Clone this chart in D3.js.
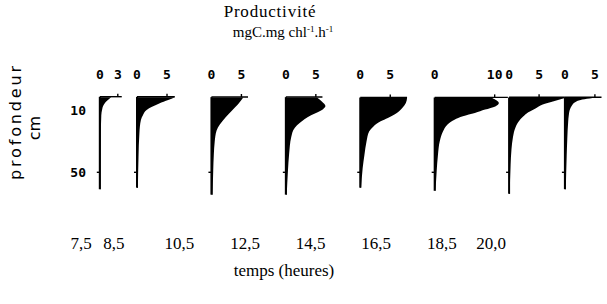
<!DOCTYPE html>
<html>
<head>
<meta charset="utf-8">
<script src="https://cdn.jsdelivr.net/npm/d3@7"></script>
<style>
  html, body { margin: 0; padding: 0; background: #fff; }
  svg { display: block; }
</style>
</head>
<body>
<svg id="chart" width="607" height="304"></svg>
<script>
// ---------- data ----------
const times      = [7.5, 8.5, 10.5, 12.5, 14.5, 16.5, 18.5, 20.0];
const timeLabels = ["7,5", "8,5", "10,5", "12,5", "14,5", "16,5", "18,5", "20,0"];
const topTicks   = [3, 5, 5, 5, 5, 10, 5, 5];
const depthTicks = [10, 50];

// productivity profiles: [depth (cm), productivity (mgC.mg chl-1.h-1)]
const prof_07_5 = [[1.3,1.9],[2.5,1.5],[4.5,0.95],[7,0.55],[9,0.4],[13,0.25],[25,0.18],[61,0.15]];
const prof_08_5 = [[1.3,6.3],[3.1,5.2],[5.3,3.7],[7.5,2.5],[9.5,1.6],[12.8,1.0],[16,0.65],[24.5,0.4],[40,0.25],[60,0.15]];
const prof_10_5 = [[1.5,5.3],[6,4.4],[10,3.4],[14.5,2.3],[19,1.4],[23,0.85],[30,0.55],[38.5,0.4],[49,0.3],[64.5,0.2]];
const prof_12_5 = [[1.5,5.2],[4,6.0],[7,6.6],[9,6.2],[11,5.3],[13,4.2],[15.5,3.1],[18,2.3],[21,1.5],[27,0.9],[38,0.55],[49,0.35],[64.5,0.15]];
const prof_14_5 = [[1.75,7.8],[5,7.6],[8.3,7.0],[11.5,6.1],[14.7,4.6],[16.9,3.4],[20.2,2.2],[23.4,1.5],[29.9,1.05],[38.6,0.7],[47.3,0.4],[60,0.15]];
const prof_16_5 = [[1.75,9.6],[5,10.7],[7.2,10.1],[9.3,8.4],[11.5,6.7],[13.6,4.7],[15.8,3.3],[19.1,2.1],[23.4,1.4],[29.9,0.85],[38.6,0.55],[49.4,0.33],[62,0.15]];
const prof_18_5 = [[1.7,9.3],[4,7.3],[6,5.6],[8.5,4.4],[11,3.2],[14,2.3],[17,1.6],[21,1.05],[27,0.65],[35,0.4],[45,0.25],[64,0.12]];
const prof_20_0 = [[1.7,4.6],[2.8,2.9],[4.5,1.7],[6.5,1.2],[9,0.85],[13,0.65],[17,0.55],[28,0.4],[39,0.3],[61,0.15]];
const profiles = [prof_07_5, prof_08_5, prof_10_5, prof_12_5, prof_14_5, prof_16_5, prof_18_5, prof_20_0];

// ---------- scales ----------
const svg = d3.select("#chart");
const place = d3.scaleLinear().domain([7.5, 20]).range([99.8, 564.9]);   // profile placement
const labelX = d3.scaleLinear().domain([7.5, 20]).range([81, 491]);     // time labels
const yDepth = d3.scaleLinear().domain([0, 60]).range([95.3, 187.7]);
const pxPerUnit = 6;

const serif = "'Liberation Serif', 'Times New Roman', serif";
const mono  = "'DejaVu Sans Mono', monospace";
const sans  = "'DejaVu Sans', sans-serif";

// ---------- title ----------
svg.append("text").attr("x", 270).attr("y", 17).attr("text-anchor", "middle")
  .attr("font-family", serif).attr("font-size", 17).attr("letter-spacing", 0.8)
  .text("Productivité");
const t2 = svg.append("text").attr("x", 283).attr("y", 37).attr("text-anchor", "middle")
  .attr("font-family", serif).attr("font-size", 15);
t2.append("tspan").text("mgC.mg chl");
t2.append("tspan").attr("font-size", 9).attr("dy", -5).text("-1");
t2.append("tspan").attr("dy", 5).text(".h");
t2.append("tspan").attr("font-size", 9).attr("dy", -5).text("-1");

// ---------- profiles ----------
times.forEach((t, i) => {
  const x0 = place(t);
  const data = profiles[i];
  const xs = d3.scaleLinear().domain([0, 1]).range([x0, x0 + pxPerUnit]);
  const g = svg.append("g");

  const area = d3.area()
    .curve(d3.curveMonotoneY)
    .y(d => yDepth(d[0]))
    .x0(xs(0))
    .x1(d => xs(d[1]));
  g.append("path").datum(data).attr("d", area).attr("fill", "#000");

  // vertical axis
  const dTop = data[0][0] - 0.3, dBot = data[data.length - 1][0];
  g.append("line").attr("x1", x0).attr("x2", x0)
    .attr("y1", yDepth(dTop)).attr("y2", yDepth(dBot))
    .attr("stroke", "#000").attr("stroke-width", 2);

  // top axis (productivity)
  const tick = topTicks[i];
  const ext = Math.max(tick * 1.22, data[0][1]);
  const yt = yDepth(data[0][0] - 0.4);
  g.append("line").attr("x1", xs(0)).attr("x2", xs(ext))
    .attr("y1", yt).attr("y2", yt)
    .attr("stroke", "#000").attr("stroke-width", 1.4);
  g.append("line").attr("x1", xs(tick)).attr("x2", xs(tick))
    .attr("y1", yt).attr("y2", yt - 3)
    .attr("stroke", "#000").attr("stroke-width", 1.4);

  [0, tick].forEach(v => {
    g.append("text").attr("x", xs(v)).attr("y", 79).attr("text-anchor", "middle")
      .attr("font-family", mono).attr("font-weight", "bold").attr("font-size", 13)
      .text(v);
  });

  // small depth tick at 50 cm
  g.append("line").attr("x1", x0 - 3).attr("x2", x0)
    .attr("y1", yDepth(50)).attr("y2", yDepth(50))
    .attr("stroke", "#000").attr("stroke-width", 1.4);

  // time label
  svg.append("text").attr("x", labelX(t)).attr("y", 249).attr("text-anchor", "middle")
    .attr("font-family", serif).attr("font-size", 17)
    .text(timeLabels[i]);
});

// depth tick labels (first panel)
depthTicks.forEach(d => {
  svg.append("text").attr("x", 86).attr("y", yDepth(d) + 4.5).attr("text-anchor", "end")
    .attr("font-family", mono).attr("font-weight", "bold").attr("font-size", 13)
    .text(d);
});

// depth axis title
svg.append("text").attr("transform", "translate(21,123) rotate(-90)")
  .attr("text-anchor", "middle").attr("font-family", sans).attr("font-size", 16)
  .attr("textLength", 114).attr("lengthAdjust", "spacing")
  .text("profondeur");
svg.append("text").attr("transform", "translate(40,128) rotate(-90)")
  .attr("text-anchor", "middle").attr("font-family", sans).attr("font-size", 16)
  .text("cm");

// time axis title
svg.append("text").attr("x", 284).attr("y", 276).attr("text-anchor", "middle")
  .attr("font-family", serif).attr("font-size", 17)
  .text("temps (heures)");
</script>
</body>
</html>
